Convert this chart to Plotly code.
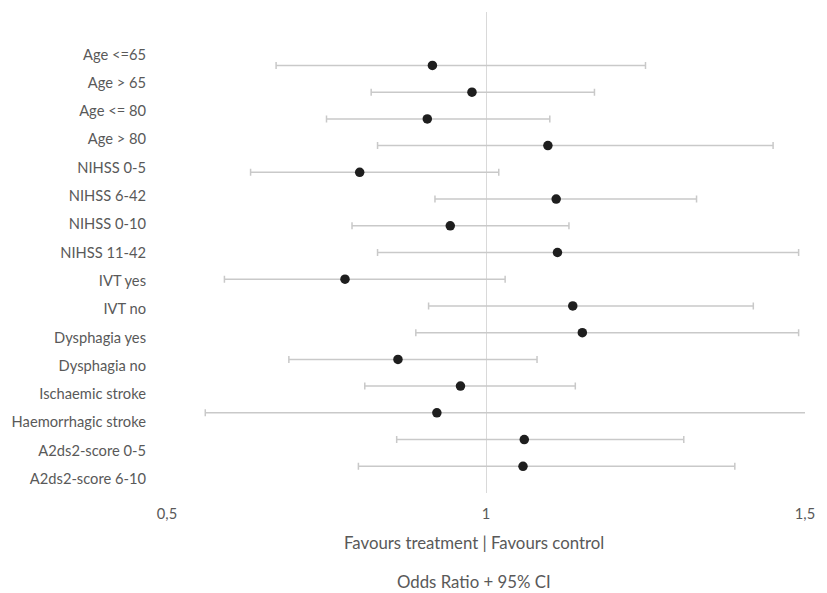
import plotly.graph_objects as go

categories = ["Age <=65", "Age > 65", "Age <= 80", "Age > 80", "NIHSS 0-5", "NIHSS 6-42",
              "NIHSS 0-10", "NIHSS 11-42", "IVT yes", "IVT no", "Dysphagia yes", "Dysphagia no",
              "Ischaemic stroke", "Haemorrhagic stroke", "A2ds2-score 0-5", "A2ds2-score 6-10"]
odds_ratio = [0.916, 0.978, 0.908, 1.097, 0.802, 1.110, 0.944, 1.112,
              0.779, 1.136, 1.151, 0.862, 0.960, 0.923, 1.060, 1.058]
ci_low = [0.671, 0.820, 0.750, 0.830, 0.631, 0.920, 0.790, 0.830,
          0.590, 0.910, 0.890, 0.691, 0.810, 0.560, 0.860, 0.800]
ci_high = [1.250, 1.170, 1.100, 1.450, 1.020, 1.330, 1.130, 1.490,
           1.030, 1.419, 1.490, 1.080, 1.140, 1.510, 1.310, 1.390]
x_ticks = [0.5, 1, 1.5]

n = len(categories)
ypos = [n - i for i in range(n)]  # 16 .. 1
YMAX = 18
# labels sit on a 17-band category layout (top band blank)
label_pos = [YMAX * (1 - (k + 1.5) / (n + 1)) for k in range(n)]

PLOT_H = 593 - 12 - 100

fig = go.Figure()
fig.add_trace(go.Scatter(
    x=odds_ratio, y=ypos, mode="markers",
    marker=dict(color="#1e1e1e", size=9.5),
    error_x=dict(type="data", symmetric=False,
                 array=[h - o for h, o in zip(ci_high, odds_ratio)],
                 arrayminus=[o - l for o, l in zip(odds_ratio, ci_low)],
                 color="#c9c9c9", thickness=1.5, width=3.5),
    showlegend=False, cliponaxis=False,
))

fig.update_layout(
    width=827, height=593,
    margin=dict(l=160, r=12, t=12, b=100),
    paper_bgcolor="white", plot_bgcolor="white",
    separators=",.",
    font=dict(family="Lato, Open Sans, sans-serif", color="#595959", size=14.7),
    xaxis=dict(range=[0.5, 1.5], tickvals=x_ticks, showgrid=True,
               gridcolor="#d9d9d9", gridwidth=1, zeroline=False, showline=False,
               ticks="", tickfont=dict(size=14.7, color="#595959"), ticklabelstandoff=10),
    yaxis=dict(range=[0, YMAX], tickvals=label_pos, ticktext=categories,
               showgrid=False, zeroline=False, showline=False, ticks="",
               tickfont=dict(size=14.7, color="#595959"), ticklabelstandoff=20),
    annotations=[
        dict(text="Favours treatment | Favours control", xref="paper", yref="paper",
             x=0.4817, y=-49 / PLOT_H, xanchor="center", yanchor="middle", showarrow=False,
             font=dict(size=16.8, color="#595959")),
        dict(text="Odds Ratio + 95% CI", xref="paper", yref="paper",
             x=0.4817, y=-88 / PLOT_H, xanchor="center", yanchor="middle", showarrow=False,
             font=dict(size=16.8, color="#595959")),
    ],
)

fig.write_html("out.html", config={"displayModeBar": False},
               post_script="document.body.style.margin='0';document.body.style.padding='0';")
